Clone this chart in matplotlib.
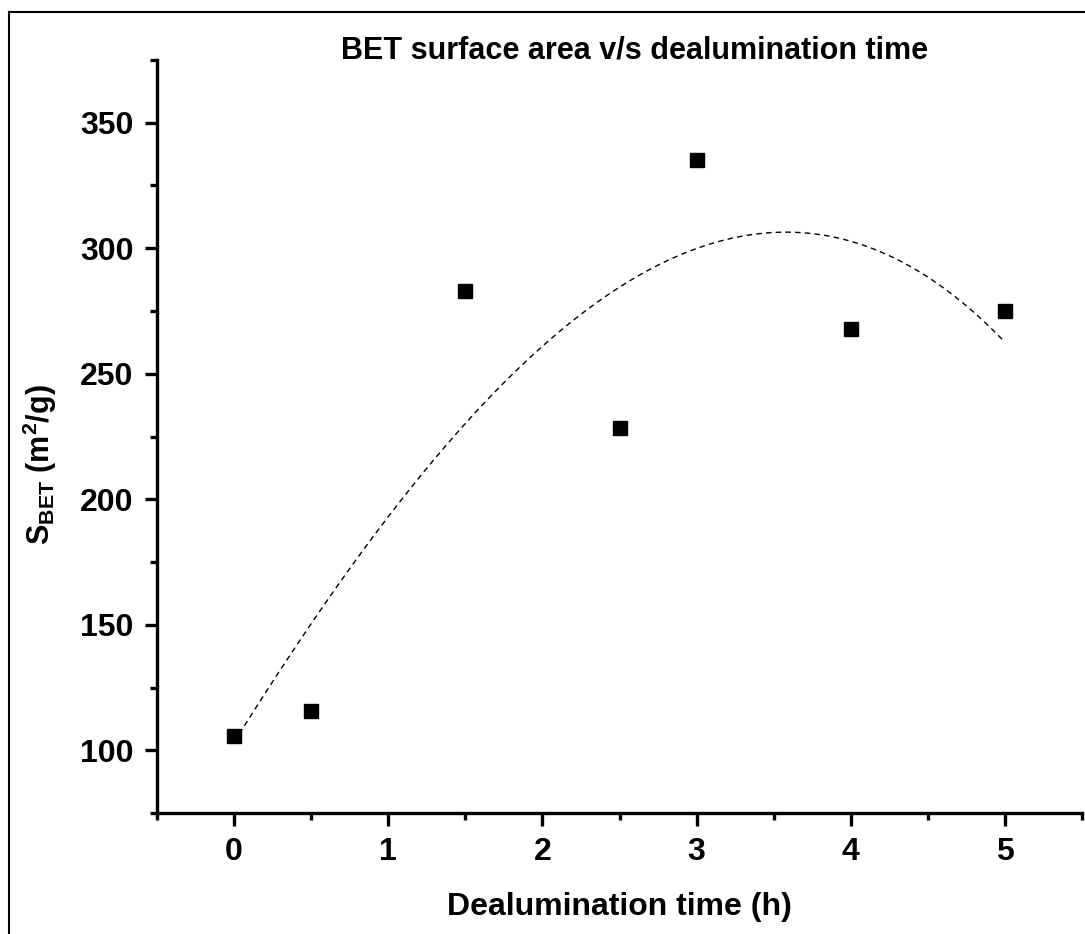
import numpy as np
import matplotlib
matplotlib.use("Agg")
import matplotlib.pyplot as plt
from matplotlib.lines import Line2D
from matplotlib.ticker import MultipleLocator

plt.rcParams['font.family'] = ['Liberation Sans', 'DejaVu Sans']
plt.rcParams['font.weight'] = 'bold'
plt.rcParams['mathtext.fontset'] = 'custom'
plt.rcParams['mathtext.rm'] = 'Liberation Sans:bold'
plt.rcParams['mathtext.bf'] = 'Liberation Sans:bold'

time_h = [0, 0.5, 1.5, 2.5, 3, 4, 5]
s_bet = [105.5, 115.5, 283, 228.5, 335, 268, 275]

# points read along the dashed fit curve of the reference
curve_x = [0.056, 0.608, 1.987, 2.875, 3.513, 4.0, 4.628, 4.985]
curve_y = [109.7, 158.4, 260.4, 298.4, 306.4, 301.7, 281.7, 264.8]

coef = np.polyfit(curve_x, curve_y, 3)
xfit = np.linspace(0, 5, 200)
yfit = np.polyval(coef, xfit)

fig = plt.figure(figsize=(10.85, 9.34), dpi=100)
ax = fig.add_axes([157/1085, 121/934, 925/1085, 753/934])

ax.plot(xfit, yfit, color='black', lw=1.0, ls=(0, (4, 3)))
ax.plot(time_h, s_bet, ls='none', marker='s', ms=10, color='black')

ax.set_xlim(-0.5, 5.5)
ax.set_ylim(75, 375)
ax.xaxis.set_major_locator(MultipleLocator(1))
ax.xaxis.set_minor_locator(MultipleLocator(0.5))
ax.yaxis.set_major_locator(MultipleLocator(50))
ax.yaxis.set_minor_locator(MultipleLocator(25))
ax.set_yticks([100, 150, 200, 250, 300, 350])

for s in ['top', 'right']:
    ax.spines[s].set_visible(False)
for s in ['left', 'bottom']:
    ax.spines[s].set_linewidth(2.4)

ax.tick_params(which='major', direction='out', length=9, width=2.4, labelsize=23, pad=8)
ax.tick_params(which='minor', direction='out', length=5, width=2.4)

fig.text(0.585, 0.946, 'BET surface area v/s dealumination time', ha='center', va='center',
         fontsize=22, fontweight='bold')
fig.text(0.571, 0.029, 'Dealumination time (h)', ha='center', va='center',
         fontsize=23, fontweight='bold')
fig.text(0.037, 0.502, r'S$_{\mathrm{BET}}$ (m$^{\mathrm{2}}$/g)', ha='center', va='center',
         rotation=90, fontsize=22, fontweight='bold')

# outer frame around the figure, cut at right and bottom
y_top = (934 - 12) / 934
x_left = 9 / 1085
fig.add_artist(Line2D([x_left, x_left], [0, y_top], color='black', lw=1.5, transform=fig.transFigure))
fig.add_artist(Line2D([x_left, 1.0], [y_top, y_top], color='black', lw=1.5, transform=fig.transFigure))

fig.savefig('out.png', dpi=100)
